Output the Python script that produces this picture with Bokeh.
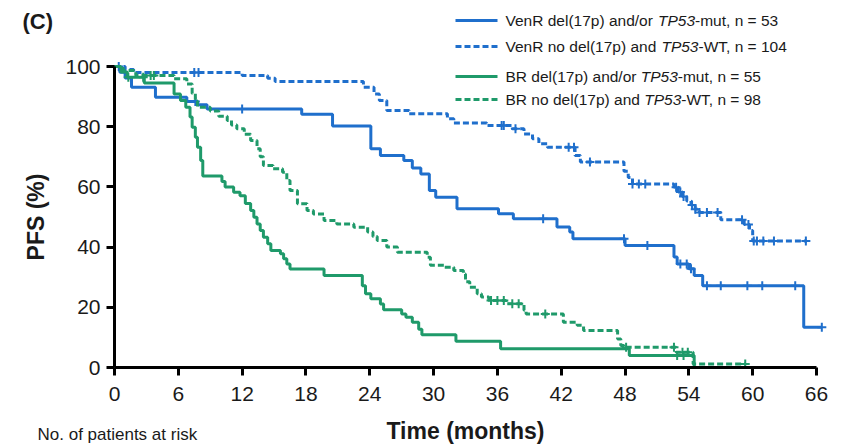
import numpy as np
from bokeh.plotting import figure
from bokeh.models import Label, FixedTicker, Range1d
from bokeh.embed import file_html
from bokeh.resources import INLINE

# ---------------- data ----------------
# Kaplan-Meier steps: at time t[i] (months) survival becomes s[i] (%)
venr_del_t = [0, 0.5, 1.0, 1.6, 3.85, 6.8, 7.8, 8.7, 17.6, 20.5, 24.1, 25.0, 27.2, 28.0,
              28.8, 29.6, 30.2, 32.2, 36.1, 37.5, 41.6, 42.8, 43.1, 48.0, 52.6, 52.9,
              54.0, 54.5, 55.3, 64.8]
venr_del_s = [100, 98.1, 96.2, 93.1, 89.8, 88.4, 87.3, 85.9, 84.1, 80.2, 72.7, 70.4, 68.8, 66.3,
              64.3, 58.8, 56.6, 52.7, 51.1, 49.4, 46.7, 45.0, 42.8, 40.5, 36.7, 34.4,
              32.8, 30.6, 27.2, 13.4]
venr_del_end = 66.5
venr_del_cens = [7.6, 12.0, 40.3, 47.9, 50.1, 53.2, 53.8, 54.2, 55.7, 57.0, 59.5, 60.9, 64.0, 66.5]

venr_wt_t = [0, 1.0, 1.8, 12.0, 14.4, 15.1, 23.4, 24.4, 24.9, 25.6, 27.7, 31.3, 31.9, 35.0,
             37.4, 38.5, 39.3, 39.9, 40.7, 43.3, 43.8, 47.9, 48.3, 48.7, 52.6, 53.0, 53.4,
             53.8, 54.2, 54.6, 55.0, 57.0, 59.2, 59.7, 60.0]
venr_wt_s = [100, 99.0, 98.0, 97.0, 96.1, 95.0, 93.1, 90.9, 88.7, 85.4, 84.3, 82.6, 81.2, 80.4,
             79.3, 77.6, 76.0, 74.3, 73.2, 70.4, 68.3, 65.2, 63.1, 61.0, 59.9, 58.3, 56.8,
             55.3, 54.0, 52.6, 51.5, 49.1, 47.5, 45.5, 42.0]
venr_wt_end = 65.1
venr_wt_cens = [0.4, 7.5, 7.9, 36.4, 36.6, 37.7, 42.7, 43.2, 44.7, 48.7, 49.3, 49.9, 52.8, 53.2,
                53.5, 54.3, 54.6, 55.0, 55.7, 56.7, 59.0, 59.6, 60.1, 60.4, 61.0, 62.0, 65.0]

br_del_t = [0, 0.6, 1.2, 2.8, 5.6, 6.2, 6.7, 7.1, 7.3, 7.6, 7.8, 8.1, 8.3, 10.1, 10.4, 11.2,
            11.8, 12.3, 12.8, 13.1, 13.4, 13.7, 14.0, 14.4, 14.7, 15.6, 15.9, 16.2, 16.5,
            19.7, 23.3, 23.6, 24.1, 25.0, 25.3, 27.0, 27.4, 28.0, 28.6, 28.9, 32.1, 36.3,
            48.4, 54.5]
br_del_s = [100, 98.2, 96.4, 94.5, 90.9, 88.7, 86.5, 83.2, 79.8, 76.5, 73.2, 68.8, 63.6, 61.8,
            60.0, 58.2, 57.1, 54.5, 52.2, 49.9, 47.7, 45.5, 43.3, 41.1, 38.9, 37.8, 36.1, 34.4,
            32.7, 30.6, 27.2, 24.5, 22.8, 21.1, 19.2, 17.8, 16.7, 15.0, 12.7, 10.9, 8.7, 6.2,
            4.0, 0.0]
br_del_end = 54.5
br_del_cens = [1.3, 2.7, 52.9, 53.5]

br_wt_t = [0, 0.8, 2.0, 5.6, 6.8, 7.3, 7.6, 7.8, 9.0, 9.8, 10.6, 11.0, 11.5, 12.2, 12.8, 13.4,
           13.7, 14.0, 14.9, 15.8, 16.2, 16.5, 17.2, 18.1, 18.7, 19.7, 20.9, 22.5, 23.8, 24.3,
           24.7, 25.6, 26.6, 29.4, 29.7, 31.0, 31.9, 32.8, 33.0, 33.4, 34.1, 34.5, 35.2, 36.8,
           38.5, 38.7, 42.2, 43.5, 44.1, 47.3, 47.6, 47.9, 52.8, 54.4]
br_wt_s = [100, 98.7, 97.0, 95.9, 94.2, 91.0, 88.5, 86.5, 85.2, 83.5, 82.1, 80.6, 79.3, 77.5,
           75.4, 72.7, 70.0, 67.1, 66.0, 64.9, 62.1, 58.8, 54.4, 52.2, 51.0, 48.8, 47.7, 46.6,
           45.0, 43.5, 42.2, 40.0, 38.3, 36.6, 34.0, 33.3, 32.2, 31.1, 28.5, 26.7, 24.5, 23.4,
           22.3, 21.2, 19.0, 17.8, 15.0, 14.0, 12.3, 9.5, 7.3, 6.7, 5.1, 1.2]
br_wt_end = 59.3
br_wt_cens = [3.4, 3.7, 35.4, 36.0, 36.6, 37.4, 38.0, 40.5, 48.1, 52.6, 53.4, 53.9, 59.3]

x_ticks = [0, 6, 12, 18, 24, 30, 36, 42, 48, 54, 60, 66]
y_ticks = [0, 20, 40, 60, 80, 100]

legend_texts = [
    [("VenR del(17p) and/or ", "normal"), ("TP53", "italic"), ("-mut, n = 53", "normal")],
    [("VenR no del(17p) and ", "normal"), ("TP53", "italic"), ("-WT, n = 104", "normal")],
    [("BR del(17p) and/or ", "normal"), ("TP53", "italic"), ("-mut, n = 55", "normal")],
    [("BR no del(17p) and ", "normal"), ("TP53", "italic"), ("-WT, n = 98", "normal")],
]

# ---------------- styling / layout ----------------
BLUE = "#1f6fcc"
GREEN = "#1f9a6a"
TXT = "#1a1a1a"
FONT = "Liberation Sans"
DASH = "6 3"

W, H = 843, 445
# pixel position of data origin and scale (frame covers the whole canvas)
OX, OY = 114.0, 367.0
sx = (816.0 - 114.0) / 66.0
sy = (367.0 - 66.0) / 100.0


def dx(px):
    return (px - OX) / sx


def dy(py):
    return (OY - py) / sy


# Arial / Liberation Sans advance widths (1/1000 em)
AW = {' ': 278, 'a': 556, 'b': 556, 'c': 500, 'd': 556, 'e': 556, 'f': 278, 'g': 556, 'h': 556,
      'i': 222, 'j': 222, 'k': 500, 'l': 222, 'm': 833, 'n': 556, 'o': 556, 'p': 556, 'q': 556,
      'r': 333, 's': 500, 't': 278, 'u': 556, 'v': 500, 'w': 722, 'x': 500, 'y': 500, 'z': 500,
      'B': 667, 'P': 667, 'R': 722, 'T': 611, 'V': 667, 'W': 944, '(': 333, ')': 333, '/': 278,
      '-': 333, ',': 278, '=': 584, '.': 278}


def tw(s, fs):
    return sum(AW.get(c, 556) for c in s) * fs / 1000.0


p = figure(width=W, height=H, x_range=Range1d(dx(0), dx(W)), y_range=Range1d(dy(H), dy(0)),
           output_backend="svg", toolbar_location=None, min_border=0)
p.outline_line_color = None
p.grid.visible = False
p.background_fill_color = "white"
p.border_fill_color = "white"

for ax, ticks, bnds in ((p.xaxis, x_ticks, (0, 66)), (p.yaxis, y_ticks, (0, 100))):
    ax.ticker = FixedTicker(ticks=ticks)
    ax.bounds = bnds
    ax.fixed_location = 0
    ax.axis_line_width = 3
    ax.axis_line_color = "black"
    ax.major_tick_line_width = 3
    ax.major_tick_line_color = "black"
    ax.major_tick_out = 8
    ax.major_tick_in = 0
    ax.minor_tick_line_color = None
    ax.major_label_text_font = FONT
    ax.major_label_text_font_size = "21px"
    ax.major_label_text_color = TXT
p.xaxis.major_label_standoff = 11
p.yaxis.major_label_standoff = 6


def surv_at(ts, ss, t):
    i = int(np.searchsorted(np.asarray(ts), t, side="right")) - 1
    return ss[max(i, 0)]


series = [
    (venr_del_t, venr_del_s, venr_del_end, venr_del_cens, BLUE, "solid"),
    (venr_wt_t, venr_wt_s, venr_wt_end, venr_wt_cens, BLUE, DASH),
    (br_del_t, br_del_s, br_del_end, br_del_cens, GREEN, "solid"),
    (br_wt_t, br_wt_s, br_wt_end, br_wt_cens, GREEN, DASH),
]
for ts, ss, end, cens, col, dash in series:
    xs = list(ts) + [end]
    ys = list(ss) + [ss[-1]]
    p.step(xs, ys, mode="after", line_width=3, line_color=col, line_dash=dash)
    cy = [surv_at(ts, ss, c) for c in cens]
    p.scatter(cens, cy, marker="cross", size=9, line_width=2, line_color=col)

# ---------------- legend (drawn manually for mixed italic text) ----------------
LFS = 15.5
rows_y = [20, 46, 76, 99]
leg_style = [(BLUE, "solid"), (BLUE, DASH), (GREEN, "solid"), (GREEN, DASH)]
for row, pieces, (col, dash) in zip(rows_y, legend_texts, leg_style):
    p.line([dx(455), dx(497)], [dy(row), dy(row)], line_width=3, line_color=col, line_dash=dash)
    x = 505.0
    for txt, style in pieces:
        p.add_layout(Label(x=dx(x), y=dy(row), text=txt, text_font=FONT,
                           text_font_size=f"{LFS}px", text_font_style=style,
                           text_color=TXT, text_baseline="middle", text_align="left"))
        x += tw(txt, LFS)

# ---------------- other texts ----------------
p.add_layout(Label(x=dx(22), y=dy(21), text="(C)", text_font=FONT, text_font_size="22px",
                   text_font_style="bold", text_color=TXT, text_baseline="middle"))
p.add_layout(Label(x=dx(35), y=50, text="PFS (%)", text_font=FONT, text_font_size="23px",
                   text_font_style="bold", text_color=TXT, angle=np.pi / 2,
                   text_align="center", text_baseline="middle"))
p.add_layout(Label(x=33, y=dy(430.5), text="Time (months)", text_font=FONT,
                   text_font_size="23px", text_font_style="bold", text_color=TXT,
                   text_align="center", text_baseline="middle"))
p.add_layout(Label(x=dx(37), y=dy(433.5), text="No. of patients at risk", text_font=FONT,
                   text_font_size="17px", text_color=TXT, text_align="left",
                   text_baseline="middle"))

open("out.html", "w").write(file_html(p, INLINE))
